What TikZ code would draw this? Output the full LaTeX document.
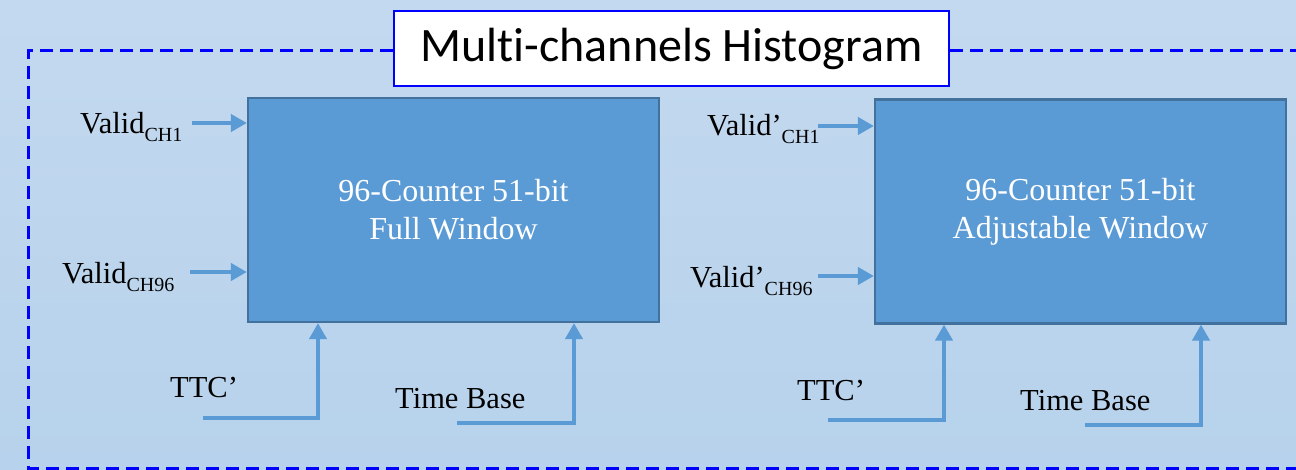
\documentclass[tikz,border=0pt]{standalone}
\usepackage{fontspec}
\setmainfont{Liberation Serif}
\newfontfamily\titlefont[Ligatures={NoCommon,NoDiscretionary,NoRare}]{Carlito}
\usetikzlibrary{arrows.meta}
\definecolor{bgtop}{RGB}{195,217,239}
\definecolor{bgbot}{RGB}{183,210,236}
\definecolor{boxfill}{RGB}{91,155,213}
\definecolor{boxline}{RGB}{65,113,156}
\definecolor{arrcol}{RGB}{91,155,213}
\tikzset{
  blockbox/.style={draw=boxline, line width=2.2pt, fill=boxfill, minimum width=411pt, minimum height=224pt, inner sep=0pt,
    text=white, align=center, font=\fontsize{32}{38}\selectfont},
  sig/.style={draw=arrcol, line width=4pt, -{Triangle[length=16pt,width=17pt]}},
  lbl/.style={inner sep=0pt, anchor=base west, font=\fontsize{30.5}{34}\selectfont},
  frame/.style={draw=blue, line width=3pt, dash pattern=on 13pt off 7pt},
}
\newcommand{\sbs}[1]{\raisebox{-8pt}{\fontsize{20}{20}\selectfont #1}}
\begin{document}
\begin{tikzpicture}[x=1pt,y=-1pt]
\useasboundingbox (0,0) rectangle (1296,470);
\shade[top color=bgtop, bottom color=bgbot] (0,0) rectangle (1296,470);

% title
\node[draw=blue, line width=2pt, fill=white, minimum width=555pt, minimum height=75pt, inner sep=0pt,
  font=\titlefont\fontsize{48}{52}\selectfont] (title) at (671.5,48.5) {Multi-channels Histogram};

% dashed frame
\coordinate (fTL) at (28,51);
\coordinate (fBL) at (28,468);
\coordinate (fBR) at (1300,468);
\coordinate (fTR) at (1300,51);
\draw[frame] (title.west |- fTL) -- (fTL) -- (fBL) -- (fBR);
\draw[frame] (title.east |- fTR) -- (fTR);

% blocks
\node[blockbox] (b1) at (453.5,210) {96-Counter 51-bit\\Full Window};
\node[blockbox] (b2) at (1080.5,211.5) {96-Counter 51-bit\\Adjustable Window};

% left block inputs
\node[lbl] (v1) at (80,134) {Valid\sbs{CH1}};
\node[lbl] (v96) at (62,284) {Valid\sbs{CH96}};
\node[lbl] (ttc1) at (170,397) {TTC’};
\node[lbl] (tb1) at (395,408) {Time Base};

\coordinate (v1s) at (192,123);
\coordinate (v96s) at (190,272);
\coordinate (t1s) at (203,418);
\coordinate (t1c) at (318,418);
\coordinate (tb1s) at (457,423);
\coordinate (tb1c) at (574,423);

\draw[sig] (v1s) -- (b1.west |- v1s);
\draw[sig] (v96s) -- (b1.west |- v96s);
\draw[sig] (t1s) -- (t1c) -- (b1.south -| t1c);
\draw[sig] (tb1s) -- (tb1c) -- (b1.south -| tb1c);

% right block inputs
\node[lbl] (v1r) at (707,136) {Valid’\sbs{CH1}};
\node[lbl] (v96r) at (690,288) {Valid’\sbs{CH96}};
\node[lbl] (ttc2) at (797,400) {TTC’};
\node[lbl] (tb2) at (1020,410) {Time Base};

\coordinate (v1rs) at (818,126);
\coordinate (v96rs) at (818,276);
\coordinate (t2s) at (828,420);
\coordinate (t2c) at (944,420);
\coordinate (tb2s) at (1085,425);
\coordinate (tb2c) at (1201,425);

\draw[sig] (v1rs) -- (b2.west |- v1rs);
\draw[sig] (v96rs) -- (b2.west |- v96rs);
\draw[sig] (t2s) -- (t2c) -- (b2.south -| t2c);
\draw[sig] (tb2s) -- (tb2c) -- (b2.south -| tb2c);
\end{tikzpicture}
\end{document}
